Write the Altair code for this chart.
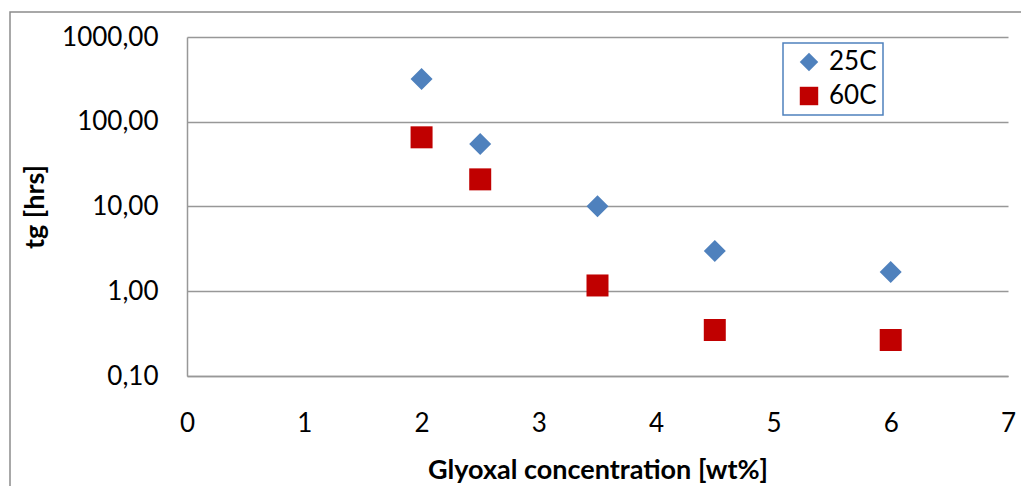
import altair as alt
import pandas as pd

# Gel time vs glyoxal concentration at two temperatures
concentration = [2, 2.5, 3.5, 4.5, 6]
tg_25c = [319, 54.6, 10.1, 2.99, 1.69]
tg_60c = [65.5, 20.9, 1.17, 0.349, 0.266]
series = ["25C", "60C"]
series_colors = ["#4F81BD", "#C00000"]
series_shapes = ["diamond", "square"]
y_ticks = [0.1, 1, 10, 100, 1000]
x_ticks = [0, 1, 2, 3, 4, 5, 6, 7]

rows = []
for name, values in zip(series, [tg_25c, tg_60c]):
    for c, v in zip(concentration, values):
        rows.append({"conc": c, "tg": v, "series": name})
df = pd.DataFrame(rows)

FONT = "Lato"
W, H = 821, 339
GRID = "#989898"

legend_cfg = dict(
    title=None,
    orient="none",
    legendX=596,
    legendY=6,
    strokeColor="#4F81BD",
    fillColor="white",
    padding=6,
    symbolOffset=7,
    rowPadding=8,
    symbolSize=340,
    symbolStrokeWidth=0,
    labelFont=FONT,
    labelFontSize=26,
    labelColor="black",
    labelOffset=7,
)

points = alt.Chart(df).mark_point(filled=True, size=484, opacity=1).encode(
    x=alt.X(
        "conc:Q",
        scale=alt.Scale(domain=[0, 7], nice=False, zero=False),
        axis=alt.Axis(
            values=x_ticks,
            format="d",
            title="Glyoxal concentration [wt%]",
            grid=False,
            ticks=False,
            domainColor=GRID,
            domainWidth=1.5,
            labelFont=FONT,
            labelFontSize=26,
            labelColor="black",
            labelPadding=47,
            labelBaseline="middle",
            labelFlush=False,
            titleFont=FONT,
            titleFontSize=27,
            titleFontWeight="bold",
            titleColor="black",
            titleX=W / 2,
            titleY=94,
            titleBaseline="middle",
            titleAlign="center",
        ),
    ),
    y=alt.Y(
        "tg:Q",
        scale=alt.Scale(type="log", domain=[0.1, 1000], nice=False),
        axis=alt.Axis(
            values=y_ticks,
            labelExpr="replace(format(datum.value, '.2f'), '.', ',')",
            title="tg [hrs]",
            grid=True,
            gridColor=GRID,
            gridWidth=1.5,
            ticks=False,
            domainColor=GRID,
            domainWidth=1.5,
            labelFont=FONT,
            labelFontSize=26,
            labelColor="black",
            labelPadding=29,
            labelFlush=False,
            titleFont=FONT,
            titleFontSize=27,
            titleFontWeight="bold",
            titleColor="black",
            titleX=-152,
            titleY=H / 2,
            titleAngle=270,
            titleBaseline="middle",
            titleAlign="center",
        ),
    ),
    color=alt.Color(
        "series:N",
        scale=alt.Scale(domain=series, range=series_colors),
        legend=alt.Legend(**legend_cfg),
    ),
    shape=alt.Shape(
        "series:N",
        scale=alt.Scale(domain=series, range=series_shapes),
        legend=alt.Legend(**legend_cfg),
    ),
)

# Outer chart frame
frame = alt.Chart(pd.DataFrame({"k": [0]})).mark_rect(
    fill=None, stroke="#8c8c8c", strokeWidth=1.5
).encode(
    x=alt.value(-177),
    x2=alt.value(W + 40),
    y=alt.value(-25),
    y2=alt.value(H + 200),
)

chart = alt.layer(frame, points).properties(
    width=W,
    height=H,
    autosize=alt.AutoSizeParams(type="none"),
    padding={"left": 187, "top": 37, "right": 13, "bottom": 110},
    background="white",
).configure_view(stroke=None).configure_legend(strokeWidth=1.5)

chart.save("out.html", embed_options={"renderer": "svg", "actions": False})
